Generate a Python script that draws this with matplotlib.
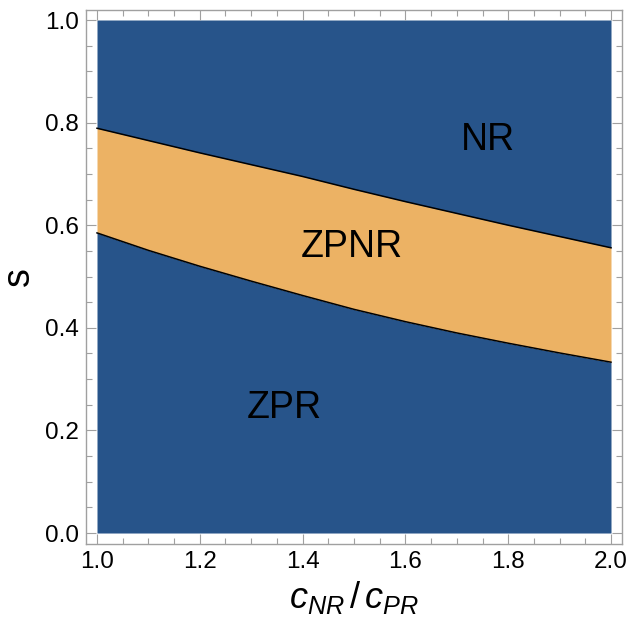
import matplotlib
matplotlib.use('Agg')
import matplotlib.pyplot as plt
import numpy as np
from matplotlib.ticker import MultipleLocator

plt.rcParams['font.family'] = ['Liberation Sans', 'DejaVu Sans']
plt.rcParams['mathtext.fontset'] = 'custom'
plt.rcParams['mathtext.rm'] = 'Liberation Sans'
plt.rcParams['mathtext.it'] = 'Liberation Sans:italic'

# ratio c_NR / c_PR
ratio = [1.0, 1.1, 1.2, 1.3, 1.4, 1.5, 1.6, 1.7, 1.8, 1.9, 2.0]
# boundary NR / ZPNR
upper = [0.789, 0.765, 0.741, 0.718, 0.695, 0.670, 0.646, 0.623, 0.600, 0.578, 0.556]
# boundary ZPNR / ZPR
lower = [0.585, 0.551, 0.520, 0.491, 0.463, 0.436, 0.412, 0.390, 0.370, 0.351, 0.333]

regions = ['NR', 'ZPNR', 'ZPR']
region_xy = [(1.761, 0.766), (1.496, 0.557), (1.364, 0.244)]

blue = '#27548a'
orange = '#ecb264'
frame = '#a0a0a0'

fig = plt.figure(figsize=(6.4, 6.23), dpi=100)
ax = fig.add_axes([86 / 640, 1 - 544 / 623, 536 / 640, 534 / 623])

x = np.array(ratio)
ax.fill_between(x, 0, lower, color=blue, lw=0)
ax.fill_between(x, lower, upper, color=orange, lw=0)
ax.fill_between(x, upper, 1, color=blue, lw=0)
ax.plot(x, upper, color='black', lw=1.1)
ax.plot(x, lower, color='black', lw=1.1)

for name, (tx, ty) in zip(regions, region_xy):
    ax.text(tx, ty, name, fontsize=27, ha='center', va='center')

ax.set_xlim(1 - 0.0214, 2 + 0.0214)
ax.set_ylim(-0.0214, 1 + 0.0195)

ax.xaxis.set_major_locator(MultipleLocator(0.2))
ax.xaxis.set_minor_locator(MultipleLocator(0.05))
ax.yaxis.set_major_locator(MultipleLocator(0.2))
ax.yaxis.set_minor_locator(MultipleLocator(0.05))
ax.xaxis.set_major_formatter(plt.FuncFormatter(lambda v, p: f'{v:.1f}'))
ax.yaxis.set_major_formatter(plt.FuncFormatter(lambda v, p: f'{v:.1f}'))

ax.tick_params(which='both', direction='in', top=True, right=True,
               color=frame, width=0.8, labelsize=17.5, labelcolor='black')
ax.tick_params(which='major', length=7, pad=5)
ax.tick_params(which='minor', length=4)
for sp in ax.spines.values():
    sp.set_color(frame)
    sp.set_linewidth(1.0)

ax.set_xlabel(r'$c_{NR}\,/\,c_{PR}$', fontsize=26, labelpad=4)
ax.set_ylabel('s', fontsize=27, labelpad=6)

fig.savefig('out.png', dpi=100)
